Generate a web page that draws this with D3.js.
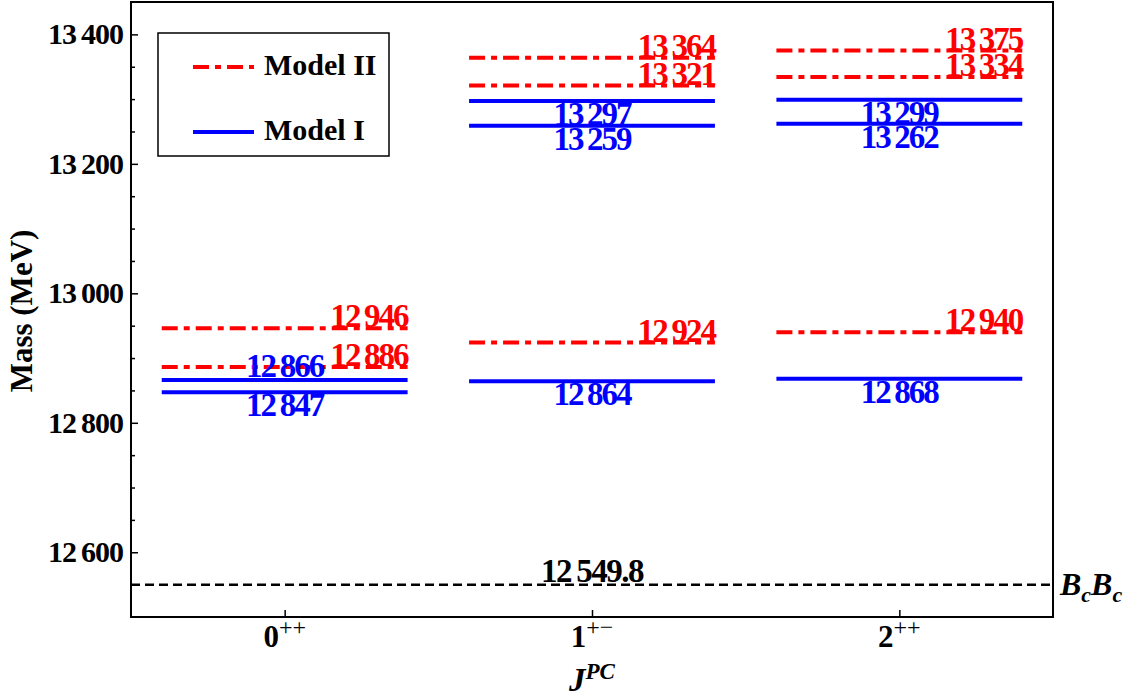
<!DOCTYPE html>
<html>
<head>
<meta charset="UTF-8">
<title>Mass spectrum</title>
<script src="https://cdn.jsdelivr.net/npm/d3@7"></script>
<style>
  body { margin: 0; background: #fff; }
  text { font-family: "Liberation Serif", "Times New Roman", serif; font-weight: bold; }
  .frame { fill: none; stroke: #000; stroke-width: 2px; }
  .tick line { stroke: #000; stroke-width: 1.5px; }
</style>
</head>
<body>
<div id="chart"></div>
<script>
// data
var categories = ["0", "1", "2"];
var catSup = ["++", "+\u2212", "++"];
var model1 = [[12847, 12866], [12864, 13259, 13297], [12868, 13262, 13299]];
var model2 = [[12886, 12946], [12924, 13321, 13364], [12940, 13334, 13375]];
var threshold = 12549.8;
var yMajor = [12600, 12800, 13000, 13200, 13400];

var width = 1123, height = 700;
var pLeft = 131, pRight = 1053, pTop = 2, pBottom = 617;

var svg = d3.select("#chart").append("svg")
  .attr("width", width).attr("height", height);

var x = d3.scaleLinear().domain([-0.5, 2.5]).range([pLeft, pRight]);
var y = d3.scaleLinear().domain([12500, 13450]).range([pBottom, pTop]);
var fmt = function(v){ return d3.format(",")(v).replace(",", "\u2009"); };

// frame
svg.append("rect").attr("class", "frame")
  .attr("x", pLeft).attr("y", pTop)
  .attr("width", pRight - pLeft).attr("height", pBottom - pTop);

// y axis - ticks inward
var yAxis = d3.axisRight(y).tickValues(yMajor).tickSize(7).tickFormat("");
svg.append("g").attr("transform", "translate(" + pLeft + ",0)").call(yAxis)
  .call(function(g){ g.select(".domain").remove(); });
var minors = d3.range(12550, 13450, 50).filter(function(v){ return yMajor.indexOf(v) < 0; });
var yMinor = d3.axisRight(y).tickValues(minors).tickSize(4).tickFormat("");
svg.append("g").attr("transform", "translate(" + pLeft + ",0)").call(yMinor)
  .call(function(g){ g.select(".domain").remove(); });

svg.selectAll(".ylab").data(yMajor).enter().append("text")
  .attr("x", pLeft - 8).attr("y", function(d){ return y(d) + 10; })
  .attr("text-anchor", "end").attr("font-size", 30).attr("letter-spacing", -1)
  .text(fmt);

// x axis - ticks inward
var xAxis = d3.axisTop(x).tickValues([0, 1, 2]).tickSize(7).tickFormat("");
svg.append("g").attr("transform", "translate(0," + pBottom + ")").call(xAxis)
  .call(function(g){ g.select(".domain").remove(); });

var xl = svg.selectAll(".xlab").data(categories).enter().append("text")
  .attr("x", function(d, i){ return x(i); }).attr("y", 647)
  .attr("text-anchor", "middle").attr("font-size", 31);
xl.append("tspan").text(function(d){ return d; });
xl.append("tspan").attr("dy", -12).attr("font-size", 24).attr("font-weight", "normal")
  .text(function(d, i){ return catSup[i]; });

// axis titles
svg.append("text").attr("transform", "translate(32,311) rotate(-90)")
  .attr("text-anchor", "middle").attr("font-size", 31).text("Mass (MeV)");
var jt = svg.append("text").attr("x", x(1)).attr("y", 691)
  .attr("text-anchor", "middle").attr("font-size", 33).attr("font-style", "italic");
jt.append("tspan").text("J");
jt.append("tspan").attr("dy", -12).attr("font-size", 23).text("PC");

// threshold line
svg.append("line")
  .attr("x1", pLeft).attr("x2", pRight)
  .attr("y1", y(threshold)).attr("y2", y(threshold))
  .attr("stroke", "#000").attr("stroke-width", 2.5).attr("stroke-dasharray", "9,5");
svg.append("text").attr("x", x(1)).attr("y", y(threshold) - 3)
  .attr("text-anchor", "middle").attr("font-size", 33).attr("letter-spacing", -1.5)
  .text(d3.format(",.1f")(threshold).replace(",", "\u2009"));
var bc = svg.append("text").attr("x", pRight + 7).attr("y", y(threshold) + 10)
  .attr("font-size", 32).attr("font-style", "italic");
bc.append("tspan").text("B");
bc.append("tspan").attr("dy", 7).attr("font-size", 22).text("c");
bc.append("tspan").attr("dy", -7).text("B");
bc.append("tspan").attr("dy", 7).attr("font-size", 22).text("c");

// levels
var hw = 0.4;
function flatten(arr){
  var out = [];
  arr.forEach(function(vals, i){
    vals.forEach(function(v){ out.push({ cat: i, v: v, all: vals }); });
  });
  return out;
}
var lv1 = flatten(model1), lv2 = flatten(model2);

svg.selectAll(".m2").data(lv2).enter().append("line")
  .attr("x1", function(d){ return x(d.cat - hw); })
  .attr("x2", function(d){ return x(d.cat + hw); })
  .attr("y1", function(d){ return y(d.v); }).attr("y2", function(d){ return y(d.v); })
  .attr("stroke", "#ff0000").attr("stroke-width", 4).attr("stroke-dasharray", "16,6,6,6");
svg.selectAll(".m1").data(lv1).enter().append("line")
  .attr("x1", function(d){ return x(d.cat - hw); })
  .attr("x2", function(d){ return x(d.cat + hw); })
  .attr("y1", function(d){ return y(d.v); }).attr("y2", function(d){ return y(d.v); })
  .attr("stroke", "#0000ff").attr("stroke-width", 4);

svg.selectAll(".l2").data(lv2).enter().append("text")
  .attr("x", function(d){ return x(d.cat + hw); })
  .attr("y", function(d){ return y(d.v) - 1; })
  .attr("text-anchor", "end").attr("font-size", 33).attr("letter-spacing", -2)
  .attr("fill", "#ff0000").text(function(d){ return fmt(d.v); });

// blue labels go below, unless another Model I level sits just underneath
svg.selectAll(".l1").data(lv1).enter().append("text")
  .attr("x", function(d){ return x(d.cat); })
  .attr("y", function(d){
    var close = d.all.some(function(o){ return o < d.v && d.v - o < 25; });
    return close ? y(d.v) - 3 : y(d.v) + 24;
  })
  .attr("text-anchor", "middle").attr("font-size", 33).attr("letter-spacing", -2)
  .attr("fill", "#0000ff").text(function(d){ return fmt(d.v); });

// legend
svg.append("rect").attr("x", 158).attr("y", 33).attr("width", 231).attr("height", 123)
  .attr("fill", "#fff").attr("stroke", "#000").attr("stroke-width", 1.5);
var legend = [
  { name: "Model II", color: "#ff0000", dash: "16,6,6,6", yy: 67 },
  { name: "Model I", color: "#0000ff", dash: null, yy: 132 }
];
legend.forEach(function(l){
  svg.append("line").attr("x1", 193).attr("x2", 254).attr("y1", l.yy).attr("y2", l.yy)
    .attr("stroke", l.color).attr("stroke-width", 4).attr("stroke-dasharray", l.dash);
  svg.append("text").attr("x", 264).attr("y", l.yy + 8).attr("font-size", 30).text(l.name);
});
</script>
</body>
</html>
